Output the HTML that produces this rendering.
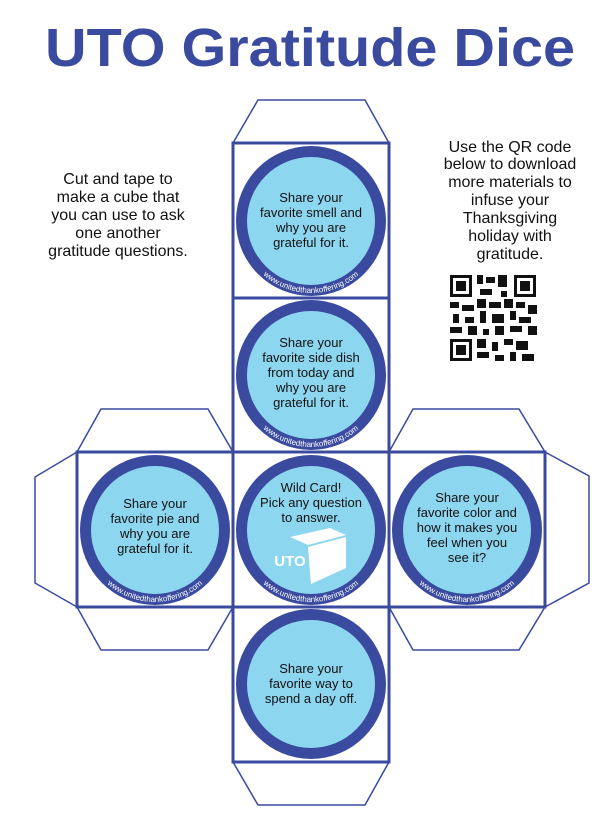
<!DOCTYPE html>
<html><head><meta charset="utf-8"><style>
html,body{margin:0;padding:0;background:#fff;width:616px;height:817px;overflow:hidden}
svg{display:block}
text{font-family:"Liberation Sans",sans-serif}
</style></head><body>
<svg width="616" height="817" viewBox="0 0 616 817" xmlns="http://www.w3.org/2000/svg">
<defs>
<path id="arc" d="M -72 0 A 72 72 0 0 0 72 0"/>
</defs>
<text x="310" y="66" text-anchor="middle" font-size="54" font-weight="bold" fill="#3a4a9f" textLength="530" lengthAdjust="spacingAndGlyphs">UTO Gratitude Dice</text>

<g fill="#fff" stroke="#3a4a9f" stroke-width="1.5">
<polygon points="233,143 258,100 365,100 389,143"/>
<polygon points="233,762 258,805 365,805 389,762"/>
<polygon points="77,452 101,409 208,409 233,452"/>
<polygon points="77,607 101,650 208,650 233,607"/>
<polygon points="389,452 413,409 519,409 545,452"/>
<polygon points="389,607 413,650 519,650 545,607"/>
<polygon points="77,452 35,477 35,583 77,607"/>
<polygon points="545,452 589,476 589,583 545,607"/>
</g>
<g fill="none" stroke="#3a4a9f" stroke-width="3">
<rect x="233" y="143" width="156" height="155"/>
<rect x="233" y="298" width="156" height="154"/>
<rect x="77" y="452" width="156" height="155"/>
<rect x="233" y="452" width="156" height="155"/>
<rect x="389" y="452" width="156" height="155"/>
<rect x="233" y="607" width="156" height="155"/>
</g>

<g transform="translate(311,221)">
<circle r="75" fill="#3a4a9f"/><circle r="64" fill="#8dd6f0"/>
<text font-size="8" fill="#fff"><textPath href="#arc" startOffset="50%" text-anchor="middle">www.unitedthankoffering.com</textPath></text>
</g>
<g transform="translate(311,375)">
<circle r="75" fill="#3a4a9f"/><circle r="64" fill="#8dd6f0"/>
<text font-size="8" fill="#fff"><textPath href="#arc" startOffset="50%" text-anchor="middle">www.unitedthankoffering.com</textPath></text>
</g>
<g transform="translate(155,530)">
<circle r="75" fill="#3a4a9f"/><circle r="64" fill="#8dd6f0"/>
<text font-size="8" fill="#fff"><textPath href="#arc" startOffset="50%" text-anchor="middle">www.unitedthankoffering.com</textPath></text>
</g>
<g transform="translate(311,530)">
<circle r="75" fill="#3a4a9f"/><circle r="64" fill="#8dd6f0"/>
<text font-size="8" fill="#fff"><textPath href="#arc" startOffset="50%" text-anchor="middle">www.unitedthankoffering.com</textPath></text>
</g>
<g transform="translate(467,530)">
<circle r="75" fill="#3a4a9f"/><circle r="64" fill="#8dd6f0"/>
<text font-size="8" fill="#fff"><textPath href="#arc" startOffset="50%" text-anchor="middle">www.unitedthankoffering.com</textPath></text>
</g>
<g transform="translate(311,684)">
<circle r="75" fill="#3a4a9f"/><circle r="64" fill="#8dd6f0"/>
</g>

<g font-size="13" fill="#111" text-anchor="middle">
<text x="311" y="202">Share your</text><text x="311" y="217">favorite smell and</text><text x="311" y="232">why you are</text><text x="311" y="247">grateful for it.</text>
<text x="311" y="347">Share your</text><text x="311" y="362">favorite side dish</text><text x="311" y="377">from today and</text><text x="311" y="392">why you are</text><text x="311" y="407">grateful for it.</text>
<text x="155" y="508">Share your</text><text x="155" y="523">favorite pie and</text><text x="155" y="538">why you are</text><text x="155" y="553">grateful for it.</text>
<text x="311" y="492">Wild Card!</text><text x="311" y="507">Pick any question</text><text x="311" y="522">to answer.</text>
<text x="467" y="502">Share your</text><text x="467" y="517">favorite color and</text><text x="467" y="532">how it makes you</text><text x="467" y="547">feel when you</text><text x="467" y="562">see it?</text>
<text x="311" y="673">Share your</text><text x="311" y="688">favorite way to</text><text x="311" y="703">spend a day off.</text>
</g>
<g fill="#fff">
<polygon points="290,537 330,528 346,535 308,545"/>
<polygon points="308,547 346,537 346,568 311,584"/>
<text x="290" y="566" font-size="15" font-weight="bold" text-anchor="middle">UTO</text>
</g>

<g font-size="16" fill="#111" text-anchor="middle">
<text x="118" y="184">Cut and tape to</text><text x="118" y="202">make a cube that</text><text x="118" y="220">you can use to ask</text><text x="118" y="238">one another</text><text x="118" y="256">gratitude questions.</text>
<text x="510" y="152">Use the QR code</text><text x="510" y="169">below to download</text><text x="510" y="187">more materials to</text><text x="510" y="205">infuse your</text><text x="510" y="223">Thanksgiving</text><text x="510" y="241">holiday with</text><text x="510" y="259">gratitude.</text>
</g>

<g fill="#111">
<rect x="449" y="274" width="88" height="88" fill="#fff"/>
<rect x="450" y="275" width="22" height="22"/><rect x="453" y="278" width="16" height="16" fill="#fff"/><rect x="456" y="281" width="10" height="10"/>
<rect x="514" y="275" width="22" height="22"/><rect x="517" y="278" width="16" height="16" fill="#fff"/><rect x="520" y="281" width="10" height="10"/>
<rect x="450" y="339" width="22" height="22"/><rect x="453" y="342" width="16" height="16" fill="#fff"/><rect x="456" y="345" width="10" height="10"/>
<rect x="477" y="275" width="6" height="9"/><rect x="486" y="277" width="9" height="6"/><rect x="498" y="275" width="9" height="12"/><rect x="480" y="289" width="12" height="6"/><rect x="501" y="291" width="6" height="6"/>
<rect x="450" y="302" width="9" height="6"/><rect x="462" y="305" width="12" height="6"/><rect x="477" y="299" width="9" height="9"/><rect x="489" y="302" width="12" height="6"/><rect x="504" y="299" width="9" height="9"/><rect x="516" y="302" width="9" height="6"/><rect x="528" y="305" width="9" height="9"/>
<rect x="453" y="314" width="6" height="9"/><rect x="465" y="317" width="9" height="6"/><rect x="480" y="311" width="6" height="12"/><rect x="492" y="314" width="12" height="9"/><rect x="510" y="311" width="6" height="9"/><rect x="519" y="317" width="12" height="6"/>
<rect x="450" y="327" width="12" height="6"/><rect x="468" y="326" width="9" height="9"/><rect x="483" y="329" width="6" height="6"/><rect x="495" y="326" width="9" height="9"/><rect x="510" y="326" width="12" height="6"/><rect x="528" y="326" width="9" height="9"/>
<rect x="477" y="339" width="9" height="9"/><rect x="492" y="342" width="6" height="9"/><rect x="504" y="339" width="9" height="6"/><rect x="516" y="341" width="12" height="9"/><rect x="477" y="352" width="12" height="6"/><rect x="495" y="355" width="9" height="6"/><rect x="510" y="352" width="6" height="9"/><rect x="522" y="354" width="12" height="7"/>
</g>
</svg>
</body></html>
